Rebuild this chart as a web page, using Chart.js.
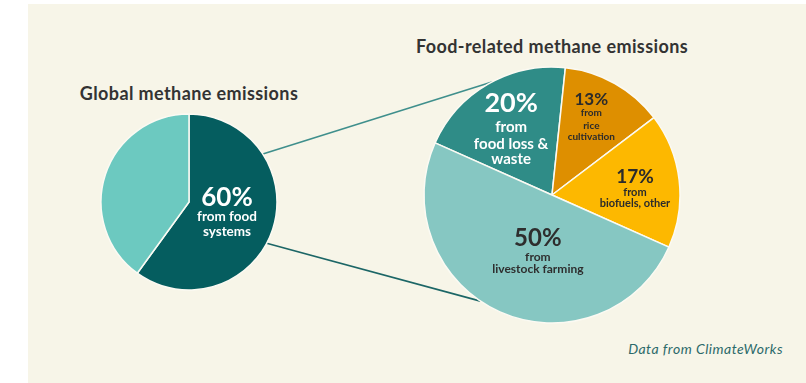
<!DOCTYPE html>
<html>
<head>
<meta charset="utf-8">
<script src="https://cdn.jsdelivr.net/npm/chart.js@4.4.0/dist/chart.umd.min.js"></script>
<style>
  body { margin: 0; background: #fff; font-family: Lato, "Open Sans", sans-serif; }
  #wrap { position: relative; width: 806px; height: 383px; overflow: hidden; }
  #panel { position: absolute; left: 28px; top: 4px; width: 778px; height: 379px; background: #f7f5e8; }
  canvas { position: absolute; }
  #globalPie { left: 99px; top: 112px; }
  #foodPie { left: 422px; top: 65px; }
  .title { position: absolute; font-weight: 700; font-size: 18px; letter-spacing: 0.4px; line-height: 20px; color: #333; text-align: center; white-space: nowrap; }
  #t1 { left: 39px; width: 300px; top: 83px; }
  #t2 { left: 402px; width: 300px; top: 36px; }
  #source { position: absolute; right: 23px; top: 340px; font-size: 14px; letter-spacing: 0.5px; font-style: italic; color: #2c6a6a; }
  #links { position: absolute; left: 0; top: 0; }
</style>
</head>
<body>
<div id="wrap">
  <div id="panel"></div>
  <svg id="links" width="806" height="383"></svg>
  <canvas id="globalPie" width="180" height="180"></canvas>
  <canvas id="foodPie" width="260" height="260"></canvas>
  <div class="title" id="t1">Global methane emissions</div>
  <div class="title" id="t2">Food-related methane emissions</div>
  <div id="source">Data from ClimateWorks</div>
</div>
<script>
// --- global methane: share from food systems vs the rest
const globalCats = ["Food systems", "Other sources"];
const globalVals = [60, 40];
const globalColors = ["#055d5f", "#6cc9c0"];

// --- food-related methane by source
const foodCats = ["Food loss & waste", "Rice cultivation", "Biofuels, other", "Livestock farming"];
const foodVals = [20, 13, 17, 50];
const foodColors = ["#2f8c87", "#de8f00", "#fdb800", "#86c7c2"];

// label lines per slice: [text, font size, line offset]
const globalLabels = [
  { color: "#fff", shift: -24, r: 0.434, lines: [[globalVals[0] + "%", 26, 0], ["from food", 13.5, 19], ["systems", 13.5, 34]] },
  null
];
const foodLabels = [
  { color: "#fff", shift: 6, r: 0.785, lines: [[foodVals[0] + "%", 27, 0], ["from", 15, 24], ["food loss &", 15, 41], ["waste", 15, 56]] },
  { color: "#2b2b2b", shift: -7, r: 0.806, lines: [[foodVals[1] + "%", 17, 0], ["from", 10, 13.5], ["rice", 10, 26.5], ["cultivation", 10, 37]] },
  { color: "#2b2b2b", shift: -6, r: 0.664, lines: [[foodVals[2] + "%", 19, 0], ["from", 11, 15.5], ["biofuels, other", 11, 27]] },
  { color: "#2e2e2e", shift: -6, r: 0.357, lines: [[foodVals[3] + "%", 24, 0], ["from", 12, 18.5], ["livestock farming", 12, 30.5]] }
];

// writes the percentage labels inside each slice
function sliceLabels(labels) {
  return {
    id: "sliceLabels",
    afterDatasetsDraw(chart) {
      const ctx = chart.ctx;
      chart.getDatasetMeta(0).data.forEach((arc, i) => {
        const lab = labels[i];
        if (!lab) return;
        const mid = (arc.startAngle + arc.endAngle) / 2 + lab.shift * Math.PI / 180;
        const x = arc.x + Math.cos(mid) * arc.outerRadius * lab.r;
        const y = arc.y + Math.sin(mid) * arc.outerRadius * lab.r;
        ctx.save();
        ctx.fillStyle = lab.color;
        ctx.textAlign = "center";
        ctx.textBaseline = "middle";
        lab.lines.forEach(([txt, size, dy]) => {
          ctx.font = "bold " + size + "px Lato, 'Open Sans', sans-serif";
          ctx.fillText(txt, x, y + dy);
        });
        ctx.restore();
      });
    }
  };
}

function pie(id, cats, vals, colors, radius, rotation, labels) {
  return new Chart(document.getElementById(id), {
    type: "pie",
    data: {
      labels: cats,
      datasets: [{
        data: vals,
        backgroundColor: colors,
        borderColor: "#fbfaf3",
        borderWidth: 1.5,
        radius: radius
      }]
    },
    options: {
      responsive: false,
      animation: false,
      rotation: rotation,
      layout: { padding: 0 },
      plugins: {
        legend: { display: false },
        tooltip: { enabled: false }
      }
    },
    plugins: [sliceLabels(labels)]
  });
}

const globalChart = pie("globalPie", globalCats, globalVals, globalColors, 88, 0, globalLabels);
const foodChart = pie("foodPie", foodCats, foodVals, foodColors, 128, -66, foodLabels);

// connector lines from the food-systems slice to the breakdown pie
const linkAngles = [[57, 332, "#3f8f8c"], [118, 214, "#1c6666"]];

function edgePoint(chart, deg) {
  const arc = chart.getDatasetMeta(0).data[0];
  const c = chart.canvas;
  const a = (deg - 90) * Math.PI / 180;
  return [c.offsetLeft + arc.x + Math.cos(a) * arc.outerRadius,
          c.offsetTop + arc.y + Math.sin(a) * arc.outerRadius];
}

const svg = document.getElementById("links");
linkAngles.forEach(([from, to, color]) => {
  const p1 = edgePoint(globalChart, from);
  const p2 = edgePoint(foodChart, to);
  const line = document.createElementNS("http://www.w3.org/2000/svg", "line");
  line.setAttribute("x1", p1[0]);
  line.setAttribute("y1", p1[1]);
  line.setAttribute("x2", p2[0]);
  line.setAttribute("y2", p2[1]);
  line.setAttribute("stroke", color);
  line.setAttribute("stroke-width", 1.6);
  svg.appendChild(line);
});
</script>
</body>
</html>
